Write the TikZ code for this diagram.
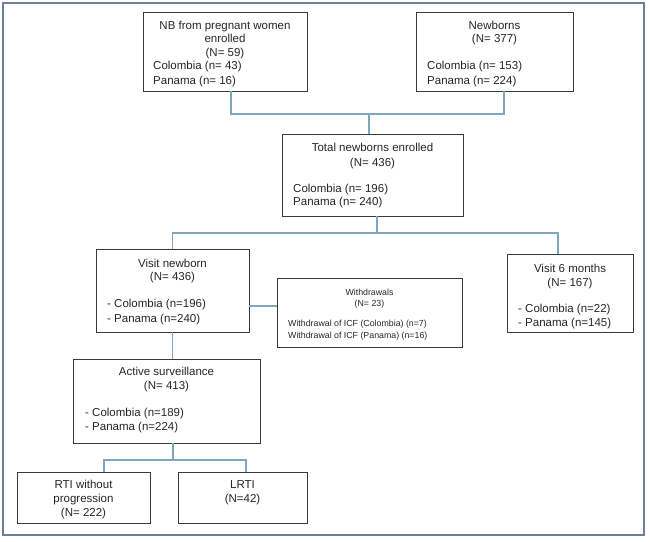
\documentclass[tikz,border=0pt]{standalone}
\usepackage{fontspec}
\setmainfont{Liberation Sans}
\usetikzlibrary{calc}
\definecolor{framec}{HTML}{6F7F99}
\definecolor{connc}{HTML}{7FA8C0}
\definecolor{boxc}{HTML}{3A3A3A}
\begin{document}
\begin{tikzpicture}[x=1pt,y=-1pt,
  boxnode/.style={draw=boxc, line width=0.8pt, inner sep=0pt, outer sep=0pt, fill=white},
  conn/.style={draw=connc, line width=1.1pt},
  framebox/.style={draw=framec, line width=1.4pt},
  tc/.style={anchor=base, inner sep=0pt, font=\fontsize{11.5}{14}\selectfont, text=black!85},
  tl/.style={anchor=base west, inner sep=0pt, font=\fontsize{11.5}{14}\selectfont, text=black!85},
  sc/.style={anchor=base, inner sep=0pt, font=\fontsize{8.8}{11}\selectfont, text=black!85},
  sl/.style={anchor=base west, inner sep=0pt, font=\fontsize{8.8}{11}\selectfont, text=black!85}]
\useasboundingbox (0,0) rectangle (650,541);
\draw[framebox] (3,3) rectangle (644,535);

% boxes
\node[boxnode, minimum width=164, minimum height=79] (b1) at (225,51.5) {};
\node[boxnode, minimum width=157, minimum height=79] (b2) at (494.5,51.5) {};
\node[boxnode, minimum width=181, minimum height=82] (tot) at (372.5,175) {};
\node[boxnode, minimum width=153, minimum height=83] (vn) at (172.5,290.5) {};
\node[boxnode, minimum width=185, minimum height=69] (wd) at (369.5,312.5) {};
\node[boxnode, minimum width=126, minimum height=78] (v6) at (570,293) {};
\node[boxnode, minimum width=187, minimum height=84] (act) at (166.5,401) {};
\node[boxnode, minimum width=133, minimum height=51] (rti) at (83.5,497.5) {};
\node[boxnode, minimum width=129, minimum height=51] (lrti) at (242.5,497.5) {};

% junctions
\coordinate (j1) at (369,114);
\coordinate (j2) at (377,233);
\coordinate (j3) at (173,460);
\coordinate (wdin) at ([yshift=6.5]wd.west);

% connectors
\draw[conn] ([xshift=6]b1.south) |- (j1) -| ([xshift=9.5]b2.south);
\draw[conn] (j1) -- (tot.north -| j1);
\draw[conn] (tot.south -| j2) -- (j2);
\draw[conn] (vn.north) |- (j2) -| ([xshift=-12]v6.north);
\draw[conn] (vn.east |- wdin) -- (wdin);
\draw[conn] (vn.south) -- (act.north -| vn.south);
\draw[conn] (act.south -| j3) -- (j3);
\draw[conn] ([xshift=20.5]rti.north) |- (j3) -| ([xshift=3.5]lrti.north);

% texts
\node[tc] (t11) at (225,29) {NB from pregnant women};
\node[tc] (t12) at (225,42) {enrolled};
\node[tc] (t13) at (225,56) {(N= 59)};
\node[tl] (t14) at (153,69) {Colombia (n= 43)};
\node[tl] (t15) at (153,84) {Panama (n= 16)};

\node[tc] (t21) at (494.5,29) {Newborns};
\node[tc] (t22) at (494.5,42) {(N= 377)};
\node[tl] (t23) at (427,69) {Colombia (n= 153)};
\node[tl] (t24) at (427,84) {Panama (n= 224)};

\node[tc] (t31) at (372.5,151) {Total newborns enrolled};
\node[tc] (t32) at (372.5,166) {(N= 436)};
\node[tl] (t33) at (293,192) {Colombia (n= 196)};
\node[tl] (t34) at (293,205) {Panama (n= 240)};

\node[tc] (t41) at (172.5,267) {Visit newborn};
\node[tc] (t42) at (172.5,280) {(N= 436)};
\node[tl] (t43) at (107,307) {- Colombia (n=196)};
\node[tl] (t44) at (107,322) {- Panama (n=240)};

\node[sc] (t51) at (369.5,295) {Withdrawals};
\node[sc] (t52) at (369.5,306) {(N= 23)};
\node[sl] (t53) at (288,326) {Withdrawal of ICF (Colombia) (n=7)};
\node[sl] (t54) at (288,338) {Withdrawal of ICF (Panama) (n=16)};

\node[tc] (t61) at (570,272) {Visit 6 months};
\node[tc] (t62) at (570,286) {(N= 167)};
\node[tl] (t63) at (518,312) {- Colombia (n=22)};
\node[tl] (t64) at (518,326) {- Panama (n=145)};

\node[tc] (t71) at (166.5,375) {Active surveillance};
\node[tc] (t72) at (166.5,389) {(N= 413)};
\node[tl] (t73) at (85,416) {- Colombia (n=189)};
\node[tl] (t74) at (85,430) {- Panama (n=224)};

\node[tc] (t81) at (83.5,488) {RTI without};
\node[tc] (t82) at (83.5,502) {progression};
\node[tc] (t83) at (83.5,516) {(N= 222)};

\node[tc] (t91) at (242.5,488) {LRTI};
\node[tc] (t92) at (242.5,502) {(N=42)};
\end{tikzpicture}
\end{document}
